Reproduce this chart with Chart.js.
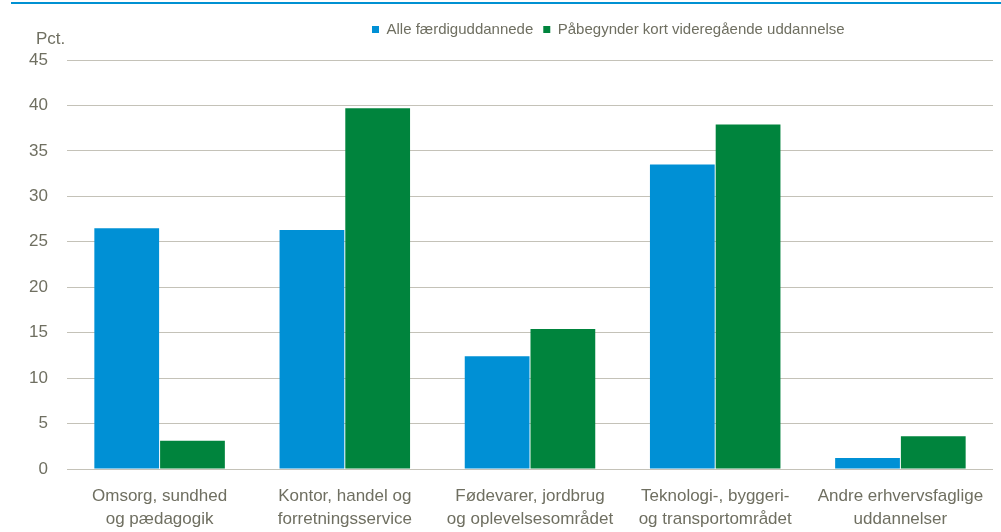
<!DOCTYPE html>
<html>
<head>
<meta charset="utf-8">
<script src="https://cdn.jsdelivr.net/npm/chart.js@4.4.1/dist/chart.umd.min.js"></script>
<style>
  html, body { margin: 0; padding: 0; background: #fff; }
  #wrap { width: 1001px; height: 532px; position: relative; }
</style>
</head>
<body>
<div id="wrap"><canvas id="chart"></canvas></div>
<script>
const categories = [
    ['Omsorg, sundhed', 'og pædagogik'],
    ['Kontor, handel og', 'forretningsservice'],
    ['Fødevarer, jordbrug', 'og oplevelsesområdet'],
    ['Teknologi-, byggeri-', 'og transportområdet'],
    ['Andre erhvervsfaglige', 'uddannelser']
];
const seriesNames = ['Alle færdiguddannede', 'Påbegynder kort videregående uddannelse'];
const alleValues = [26.5, 26.3, 12.4, 33.5, 1.2];
const kortValues = [3.1, 39.7, 15.4, 37.9, 3.6];
const yTicks = [0, 5, 10, 15, 20, 25, 30, 35, 40, 45];

const textColor = '#6f6f61';
const gridColor = '#c4c2b8';
const fam = '"Liberation Sans", Arial, sans-serif';

// Pynt: blå linje i toppen, "Pct." og placering af forklaringen
const decor = {
    id: 'decor',
    afterLayout(chart) {
        const lg = chart.legend;
        const w = lg.right - lg.left;
        const h = lg.bottom - lg.top;
        lg.left = 362;
        lg.right = lg.left + w;
        lg.top = 12;
        lg.bottom = lg.top + h;
    },
    beforeDraw(chart) {
        const ctx = chart.ctx;
        ctx.save();
        ctx.fillStyle = '#0091d2';
        ctx.fillRect(11, 2, 990, 2);
        ctx.fillStyle = textColor;
        ctx.font = '17px ' + fam;
        ctx.textAlign = 'left';
        ctx.textBaseline = 'middle';
        ctx.fillText('Pct.', 36, 39);
        ctx.restore();
    }
};

const ctx = document.getElementById('chart').getContext('2d');
new Chart(ctx, {
    type: 'bar',
    data: {
        labels: categories,
        datasets: [{
            label: seriesNames[0],
            data: alleValues,
            backgroundColor: '#0090d5',
            borderWidth: 0
        }, {
            label: seriesNames[1],
            data: kortValues,
            backgroundColor: '#00843d',
            borderWidth: 0
        }]
    },
    options: {
        responsive: true,
        maintainAspectRatio: false,
        animation: false,
        layout: { padding: { top: 25, right: 8, left: 0, bottom: 0 } },
        datasets: {
            bar: { categoryPercentage: 0.71, barPercentage: 0.985 }
        },
        plugins: {
            legend: {
                position: 'top',
                align: 'start',
                labels: {
                    boxWidth: 7,
                    boxHeight: 7,
                    padding: 10,
                    color: textColor,
                    font: { family: fam, size: 15 }
                }
            },
            tooltip: { enabled: false }
        },
        scales: {
            x: {
                grid: { display: false, drawTicks: false },
                border: { display: false },
                ticks: {
                    color: textColor,
                    padding: 16,
                    maxRotation: 0,
                    autoSkip: false,
                    font: { family: fam, size: 17, lineHeight: 1.35 }
                },
                afterFit(scale) { scale.height = 63; }
            },
            y: {
                min: 0,
                max: 45,
                afterBuildTicks(scale) { scale.ticks = yTicks.map(v => ({ value: v })); },
                grid: { color: gridColor, lineWidth: 1, drawTicks: false },
                border: { display: false },
                ticks: {
                    color: textColor,
                    padding: 19,
                    font: { family: fam, size: 17 }
                },
                afterFit(scale) { scale.width = 67; }
            }
        }
    },
    plugins: [decor]
});
</script>
</body>
</html>
